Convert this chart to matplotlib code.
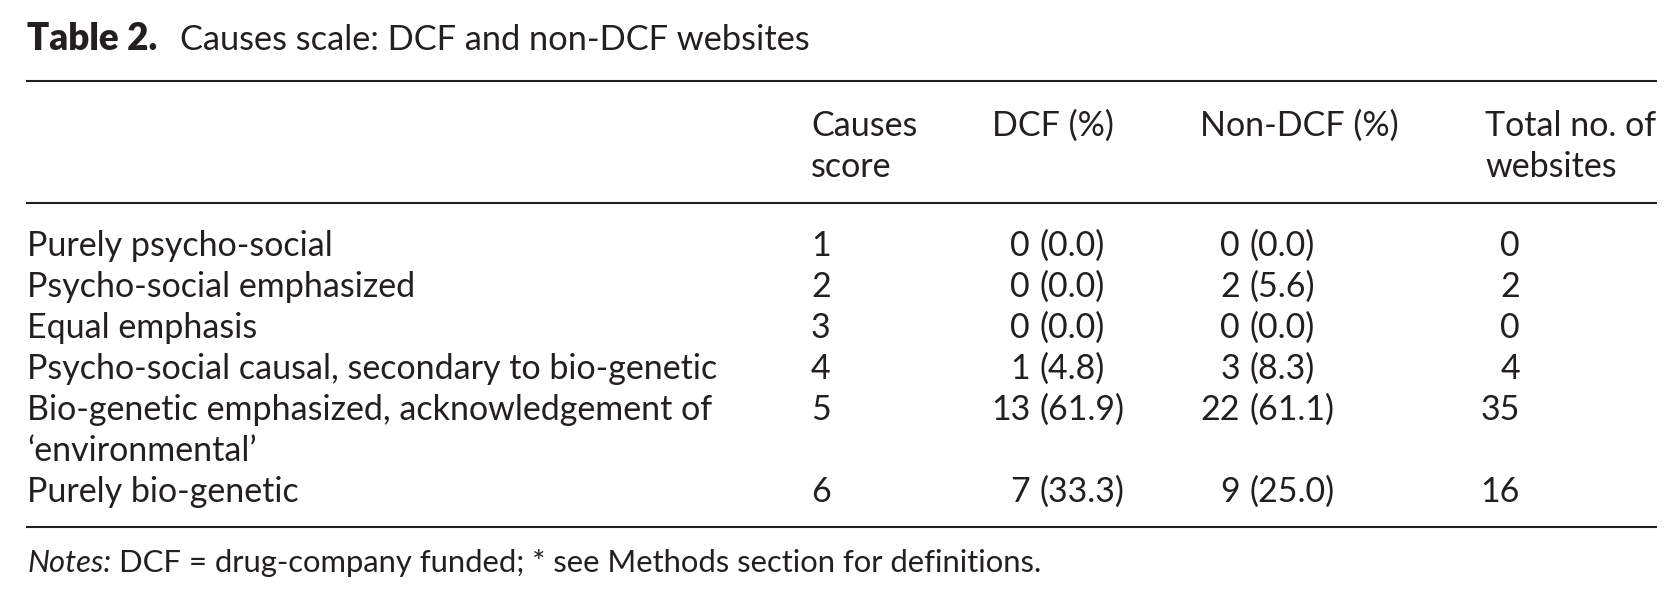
import matplotlib
matplotlib.use("Agg")
import matplotlib.pyplot as plt
from matplotlib.lines import Line2D

# table content
title_bold = "Table 2."
title_rest = "Causes scale: DCF and non-DCF websites"
headers = ["Causes\nscore", "DCF (%)", "Non-DCF (%)", "Total no. of\nwebsites"]
causes = [
    "Purely psycho-social",
    "Psycho-social emphasized",
    "Equal emphasis",
    "Psycho-social causal, secondary to bio-genetic",
    "Bio-genetic emphasized, acknowledgement of\n\u2018environmental\u2019",
    "Purely bio-genetic",
]
scores = [1, 2, 3, 4, 5, 6]
dcf_n = [0, 0, 0, 1, 13, 7]
dcf_pct = [0.0, 0.0, 0.0, 4.8, 61.9, 33.3]
nondcf_n = [0, 2, 0, 3, 22, 9]
nondcf_pct = [0.0, 5.6, 0.0, 8.3, 61.1, 25.0]
totals = [0, 2, 0, 4, 35, 16]
note_lead = "Notes:"
note_rest = "DCF = drug-company funded; * see Methods section for definitions."

W, H = 1681, 606
FONT = "Lato"
INK = "#231f20"

fig = plt.figure(figsize=(W / 100, H / 100), dpi=100)
fig.patch.set_facecolor("white")
renderer = fig.canvas.get_renderer()


def fx(x):
    return x / W


def fy(y):
    return 1 - y / H


def put(x, y, s, ha="left", **kw):
    kw.setdefault("fontsize", fs)
    kw.setdefault("family", FONT)
    return fig.text(fx(x), fy(y), s, ha=ha, va="baseline", color=INK, **kw)


def rule(y):
    fig.add_artist(Line2D([fx(27), fx(1656)], [fy(y), fy(y)],
                          transform=fig.transFigure, color=INK, lw=1.5))


# fit font size so the longest label spans about the same width as the original
probe = fig.text(0, 0, causes[3], fontsize=20, family=FONT)
wpx = probe.get_window_extent(renderer).width
probe.remove()
fs = 20 * 691 / wpx

# title
put(27, 50, title_bold, weight="heavy", fontsize=fs * 1.08)
put(180, 50, title_rest, fontsize=fs * 1.01)

rule(81)
rule(203)

# header
x_score, x_dcf, x_non, x_tot = 811, 992, 1200, 1485
line_h = 41
for x, h in zip([x_score, x_dcf, x_non, x_tot], headers):
    for k, part in enumerate(h.split("\n")):
        put(x, 136 + k * line_h, part)

# body: counts right-aligned, percentages start at a common "(" column
y = 256
for i in range(len(causes)):
    lines = causes[i].split("\n")
    for k, part in enumerate(lines):
        put(27, y + k * line_h, part)
    put(x_score, y, str(scores[i]))
    put(1030, y, str(dcf_n[i]), ha="right")
    put(1040, y, "(%.1f)" % dcf_pct[i])
    put(1240, y, str(nondcf_n[i]), ha="right")
    put(1250, y, "(%.1f)" % nondcf_pct[i])
    put(1520, y, str(totals[i]), ha="right")
    y += line_h * len(lines)

rule(527)

# notes
nfs = fs * 0.91
lead = put(27, 572, note_lead, style="italic", fontsize=nfs)
lead_end = 27 + lead.get_window_extent(renderer).width
put(lead_end + 8, 572, note_rest, fontsize=nfs)

fig.savefig("out.png", dpi=100, facecolor="white")
